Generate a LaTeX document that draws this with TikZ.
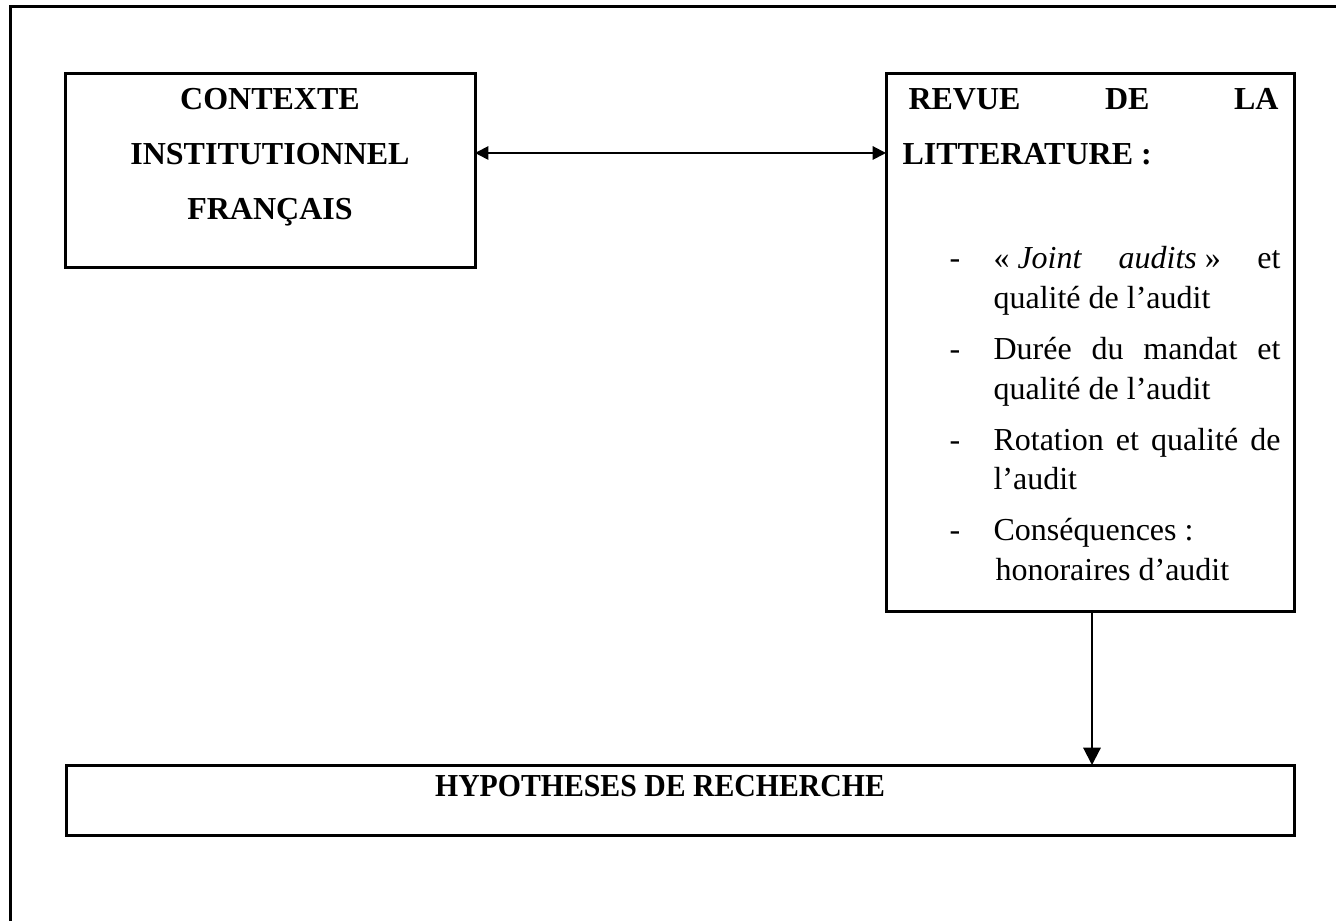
\documentclass[tikz,border=0pt]{standalone}
\usepackage{fontspec}
\setmainfont{Liberation Serif}
\usetikzlibrary{arrows.meta}
\begin{document}
\begin{tikzpicture}[x=0.375pt,y=-0.375pt,
  box/.style={draw,line width=1.125pt,inner sep=0pt,outer sep=0pt},
  txt/.style={inner sep=0pt,anchor=base west,font=\fontsize{12}{14}\selectfont},
  hd/.style={inner sep=0pt,anchor=base,font=\fontsize{12}{14}\selectfont\bfseries},
  hdw/.style={inner sep=0pt,anchor=base west,font=\fontsize{12}{14}\selectfont\bfseries},
  conn/.style={line width=0.75pt}]
\useasboundingbox (0,0) rectangle (1336,921);
\draw[line width=1.125pt] (10,940) -- (10,7) -- (1350,7);
% boxes
\node[box,minimum width=153.4pt,minimum height=72.75pt] (ctx) at (270.5,171) {};
\node[box,minimum width=153pt,minimum height=201.4pt] (rev) at (1090,342.5) {};
\node[box,minimum width=460.5pt,minimum height=26.6pt] (hyp) at (680,800.5) {};
% left box text
\node[hd] (c1) at (270,110) {CONTEXTE};
\node[hd] (c2) at (270,165) {INSTITUTIONNEL};
\node[hd] (c3) at (270,220) {FRANÇAIS};
% right box text
\node[hdw] (r1) at (908,110) {\hbox to 138.75pt{REVUE\hfill DE\hfill LA}};
\node[hdw] (r2) at (902,165) {LITTERATURE :};
\node[txt] (d1) at (949,269) {-};
\node[txt] (i1a) at (993,269) {\hbox to 107.6pt{«~\textit{Joint}\hfill\textit{audits}~»\hfill et}};
\node[txt] (i1b) at (993,309) {qualité de l’audit};
\node[txt] (d2) at (949,360) {-};
\node[txt] (i2a) at (993,360) {\hbox to 107.6pt{Durée\hfill du\hfill mandat\hfill et}};
\node[txt] (i2b) at (993,400) {qualité de l’audit};
\node[txt] (d3) at (949,451) {-};
\node[txt] (i3a) at (993,451) {\hbox to 107.6pt{Rotation\hfill et\hfill qualité\hfill de}};
\node[txt] (i3b) at (993,490) {l’audit};
\node[txt] (d4) at (949,541) {-};
\node[txt] (i4a) at (993,541) {Conséquences :};
\node[txt] (i4b) at (995,581) {honoraires d’audit};
% bottom box text
\node[hd] (h1) at (660,797) {\scalebox{0.93}[1]{HYPOTHESES DE RECHERCHE}};
% connectors
\coordinate (ay) at (0,153);
\draw[conn,{Triangle[length=5pt,width=5pt]}-{Triangle[length=5pt,width=5pt]}] (ctx.east |- ay) -- (rev.west |- ay);
\coordinate (dx) at (1092,0);
\draw[conn,-{Triangle[length=6.5pt,width=6.5pt]}] (rev.south -| dx) -- (hyp.north -| dx);
\end{tikzpicture}
\end{document}
